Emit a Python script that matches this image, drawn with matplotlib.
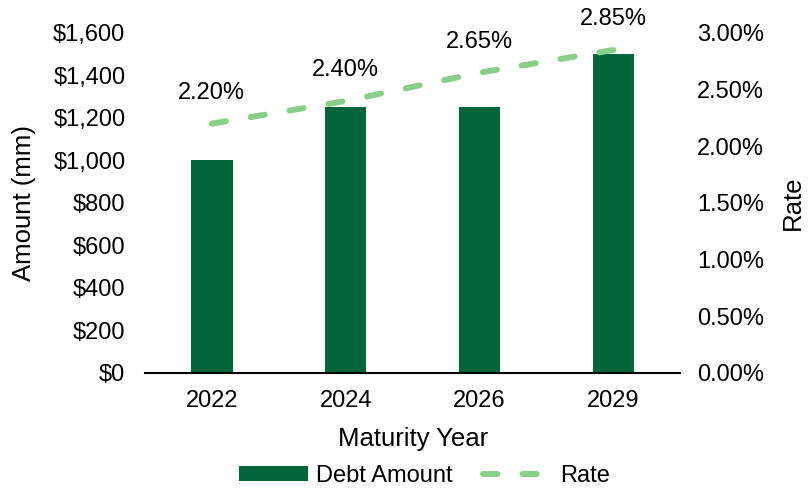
import matplotlib
matplotlib.use("Agg")
from matplotlib import pyplot as plt
from matplotlib.ticker import FuncFormatter
import numpy as np

plt.rcParams.update({'font.size': 17, 'font.family': ['Liberation Sans', 'DejaVu Sans']})

years = ["2022", "2024", "2026", "2029"]
debt_amount = [1000, 1250, 1250, 1500]
rates = [2.20, 2.40, 2.65, 2.85]

bar_color = "#03663A"
line_color = "#88D088"
dash_style = (0, (2.4, 4.2))

fig = plt.figure(figsize=(8.09, 4.88), dpi=100)
ax = fig.add_axes([0.179, 0.2357, 0.662, 0.6967])
x = np.arange(len(years))

bars = ax.bar(x, debt_amount, width=0.31, color=bar_color, label="Debt Amount", zorder=2)
ax.set_xlim(-0.5, len(years) - 0.5)
ax.set_ylim(0, 1600)
ax.set_yticks(np.arange(0, 1601, 200))
ax.yaxis.set_major_formatter(FuncFormatter(lambda v, p: f"${v:,.0f}"))
ax.set_xticks(x)
ax.set_xticklabels(years)
ax.set_xlabel("Maturity Year", fontsize=18.5, labelpad=11)
ax.set_ylabel("Amount (mm)", fontsize=18.5, labelpad=12)
for s in ["top", "right", "left"]:
    ax.spines[s].set_visible(False)
ax.spines["bottom"].set_linewidth(1.5)
ax.tick_params(axis="y", length=0, pad=14)
ax.tick_params(axis="x", length=0, pad=12)

ax2 = ax.twinx()
line, = ax2.plot(x, rates, color=line_color, linewidth=4.3, linestyle=dash_style,
                 dash_capstyle="round", label="Rate", zorder=3)
ax2.set_ylim(0, 3.0)
ax2.set_yticks(np.arange(0, 3.01, 0.5))
ax2.yaxis.set_major_formatter(FuncFormatter(lambda v, p: f"{v:.2f}%"))
ax2.set_ylabel("Rate", fontsize=18.5, rotation=90, labelpad=12)
for s in ["top", "right", "left", "bottom"]:
    ax2.spines[s].set_visible(False)
ax2.tick_params(axis="y", length=0, pad=12)

for xi, r in zip(x, rates):
    ax2.annotate(f"{r:.2f}%", (xi, r), xytext=(0, 22), textcoords="offset points",
                 ha="center", va="center")

fig.legend([bars, line], ["Debt Amount", "Rate"], loc="lower center",
           bbox_to_anchor=(0.525, 0.0), ncol=2, frameon=False, borderpad=0,
           borderaxespad=0.05, handlelength=2.9, handleheight=0.55,
           columnspacing=1.3, handletextpad=0.35)

fig.savefig("out.png", dpi=100)
